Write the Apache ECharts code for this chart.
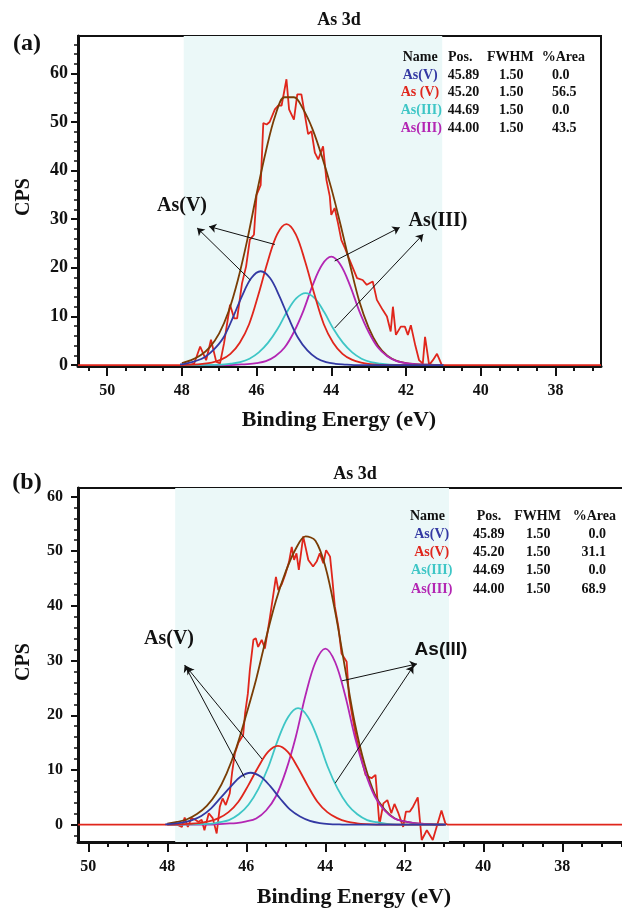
<!DOCTYPE html>
<html>
<head>
<meta charset="utf-8">
<script src="https://cdn.jsdelivr.net/npm/echarts@6/dist/echarts.min.js"></script>
<style>
    html, body {margin: 0; padding: 0; background: #fff;}
    #chart {width: 622px; height: 910px;}
</style>
</head>
<body>
<div id="chart"></div>
<script>
    // ---- (a) 数据 ----
    var rawAX = [50.78, 47.8, 47.67, 47.51, 47.35, 47.22, 47.08, 46.98, 46.87, 46.71, 46.6, 46.52, 46.39, 46.28, 46.18, 46.07, 46.0, 45.89, 45.82, 45.73, 45.65, 45.51, 45.42, 45.33, 45.2, 45.13, 45.0, 44.91, 44.8, 44.62, 44.53, 44.44, 44.35, 44.22, 44.13, 44.04, 44.0, 43.91, 43.82, 43.73, 43.63, 43.53, 43.31, 43.16, 43.05, 42.89, 42.78, 42.62, 42.51, 42.41, 42.35, 42.27, 42.14, 42.03, 41.95, 41.87, 41.75, 41.65, 41.55, 41.49, 41.38, 41.28, 41.17, 41.04, 36.78];
    var rawAY = [0, 0, 0.3, 3.8, 1.0, 5.2, 0.7, 0.3, 4.5, 12.4, 9.6, 9.6, 16.8, 20.3, 25.8, 26.8, 35.0, 37.0, 49.8, 49.5, 50.0, 52.6, 53.4, 53.4, 58.8, 52.6, 50.5, 55.7, 55.7, 47.5, 48.1, 43.7, 42.3, 45.0, 38.1, 34.7, 30.9, 32.3, 29.2, 25.7, 24.0, 22.0, 17.9, 17.5, 16.5, 17.2, 13.4, 11.3, 10.0, 6.9, 12.0, 6.2, 7.9, 7.9, 6.2, 8.2, 4.0, 1.0, 0.3, 5.8, 0, 1.0, 2.3, 0, 0];

    var envAX = [48.0, 47.75, 47.5, 47.25, 47.0, 46.75, 46.5, 46.25, 46.0, 45.75, 45.5, 45.25, 45.0, 44.75, 44.5, 44.25, 44.0, 43.75, 43.5, 43.25, 43.0, 42.75, 42.5, 42.25, 42.0, 41.75, 41.5, 41.25, 41.0];
    var envAY = [0.4, 1.0, 2.0, 3.7, 6.5, 11.0, 17.5, 25.7, 35.2, 44.0, 51.3, 55.1, 55.1, 52.6, 48.5, 42.9, 36.4, 28.8, 20.7, 13.1, 7.7, 4.0, 1.9, 0.85, 0.4, 0.2, 0.1, 0.05, 0];

    var blueAX = [48.05, 47.89, 47.64, 47.39, 47.14, 46.89, 46.64, 46.39, 46.14, 45.89, 45.64, 45.39, 45.14, 44.89, 44.64, 44.39, 44.14, 43.89, 43.64, 43.39, 41.0];
    var blueAY = [0.15, 0.3, 0.8, 1.6, 3.2, 5.6, 9.65, 14.2, 17.9, 19.3, 17.9, 14.2, 9.65, 5.6, 3.0, 1.4, 0.6, 0.25, 0.1, 0, 0];

    var redAX = [48.0, 47.7, 47.45, 47.2, 46.95, 46.7, 46.45, 46.2, 45.95, 45.7, 45.45, 45.2, 44.95, 44.7, 44.45, 44.2, 43.95, 43.7, 43.45, 43.2, 42.95, 42.7, 42.45, 41.0];
    var redAY = [0, 0.1, 0.25, 0.5, 1.1, 2.3, 4.6, 8.4, 14.5, 21.3, 26.9, 29.0, 26.9, 21.3, 14.5, 8.4, 4.6, 2.3, 1.1, 0.5, 0.2, 0.05, 0, 0];

    var cyanAX = [48.0, 46.94, 46.69, 46.44, 46.19, 45.94, 45.69, 45.44, 45.19, 44.94, 44.69, 44.44, 44.19, 43.94, 43.69, 43.44, 43.19, 42.94, 42.69, 42.44, 42.19, 41.0];
    var cyanAY = [0, 0.1, 0.3, 0.6, 1.3, 2.6, 4.6, 7.4, 10.9, 13.7, 14.8, 13.7, 10.9, 7.4, 4.6, 2.6, 1.3, 0.6, 0.3, 0.1, 0, 0];

    var magAX = [48.0, 46.75, 46.5, 46.25, 46.0, 45.75, 45.5, 45.25, 45.0, 44.75, 44.5, 44.25, 44.0, 43.75, 43.5, 43.25, 43.0, 42.75, 42.5, 42.25, 42.0, 41.75, 41.5, 41.25, 41.0];
    var magAY = [0, 0, 0.1, 0.2, 0.4, 0.8, 1.8, 3.6, 6.8, 11.1, 16.4, 20.6, 22.3, 20.6, 16.4, 11.1, 6.8, 3.6, 1.8, 0.8, 0.4, 0.2, 0.1, 0, 0];

    // ---- (b) 数据 ----
    var rawBX = [50.26, 47.75, 47.71, 47.63, 47.56, 47.48, 47.39, 47.29, 47.21, 47.13, 47.06, 46.95, 46.85, 46.75, 46.67, 46.6, 46.52, 46.42, 46.36, 46.29, 46.2, 46.08, 46.03, 45.96, 45.91, 45.82, 45.76, 45.7, 45.61, 45.53, 45.4, 45.25, 45.19, 45.1, 45.02, 44.92, 44.85, 44.79, 44.73, 44.67, 44.56, 44.52, 44.43, 44.37, 44.31, 44.22, 44.14, 44.05, 43.98, 43.88, 43.82, 43.76, 43.67, 43.59, 43.46, 43.4, 43.33, 43.22, 43.12, 42.98, 42.83, 42.73, 42.63, 42.53, 42.43, 42.33, 42.25, 42.15, 42.03, 41.96, 41.86, 41.78, 41.66, 41.56, 41.43, 41.28, 41.06, 40.96, 40.9, 36.44];
    var rawBY = [0, 0, 0, -0.4, 1.3, -0.4, 1.2, 0.9, 0.5, 0.9, -1.0, 2.1, 1.2, -1.6, 3.3, 4.8, 3.6, 5.7, 9.5, 13.0, 15.0, 16.4, 20.4, 24.0, 28.3, 33.8, 34.1, 32.5, 33.8, 32.2, 38.0, 45.3, 42.9, 44.0, 45.6, 48.0, 50.8, 48.4, 49.6, 46.6, 52.7, 53.0, 48.4, 47.8, 47.2, 48.1, 49.6, 47.8, 50.2, 49.0, 44.7, 39.9, 36.2, 31.3, 29.8, 23.4, 20.4, 16.0, 13.0, 9.1, 8.5, 9.1, 0, 3.9, 4.5, 2.1, 3.8, 2.1, -0.4, 2.4, 2.4, 3.3, 5.0, -2.8, -1.0, -2.8, 2.6, 0.2, 0, 0];

    var envBX = [48.0, 47.75, 47.5, 47.25, 47.0, 46.75, 46.5, 46.25, 46.0, 45.75, 45.5, 45.25, 45.0, 44.75, 44.5, 44.25, 44.0, 43.75, 43.5, 43.25, 43.0, 42.75, 42.5, 42.25, 42.0, 41.75, 41.5, 41.25, 41.0];
    var envBY = [0.2, 0.5, 1.0, 1.95, 3.45, 5.8, 9.35, 14.1, 20.15, 26.6, 34.1, 40.95, 46.3, 50.4, 52.7, 51.9, 47.2, 38.9, 28.6, 18.45, 10.9, 5.6, 2.75, 1.2, 0.6, 0.3, 0.15, 0.07, 0];

    var blueBX = [48.05, 47.89, 47.64, 47.39, 47.14, 46.89, 46.64, 46.39, 46.14, 45.89, 45.64, 45.39, 45.14, 44.89, 44.64, 44.39, 44.14, 43.89, 43.64, 43.39, 40.95];
    var blueBY = [0.07, 0.15, 0.4, 0.8, 1.6, 3.0, 5.0, 7.0, 8.8, 9.5, 8.8, 7.0, 4.75, 2.75, 1.5, 0.7, 0.3, 0.12, 0.05, 0, 0];

    var redBX = [48.0, 47.7, 47.45, 47.2, 46.95, 46.7, 46.45, 46.2, 45.95, 45.7, 45.45, 45.2, 44.95, 44.7, 44.45, 44.2, 43.95, 43.7, 43.45, 43.2, 42.95, 42.7, 42.45, 40.95];
    var redBY = [0, 0.05, 0.15, 0.3, 0.6, 1.2, 2.3, 4.2, 7.2, 10.5, 13.3, 14.4, 13.3, 10.5, 7.2, 4.2, 2.3, 1.2, 0.55, 0.25, 0.1, 0.02, 0, 0];

    var cyanBX = [48.0, 46.94, 46.69, 46.44, 46.19, 45.94, 45.69, 45.44, 45.19, 44.94, 44.69, 44.44, 44.19, 43.94, 43.69, 43.44, 43.19, 42.94, 42.69, 42.44, 42.19, 40.95];
    var cyanBY = [0, 0.15, 0.45, 0.85, 1.9, 3.7, 6.6, 10.6, 15.7, 19.7, 21.3, 19.7, 15.7, 10.6, 6.6, 3.7, 1.9, 0.85, 0.45, 0.15, 0, 0];

    var magBX = [48.0, 46.9, 46.75, 46.5, 46.25, 46.0, 45.75, 45.5, 45.25, 45.0, 44.75, 44.5, 44.25, 44.0, 43.75, 43.5, 43.25, 43.0, 42.75, 42.5, 42.25, 42.0, 41.75, 41.5, 41.25, 41.0];
    var magBY = [0, 0, 0.1, 0.2, 0.3, 0.6, 1.15, 2.6, 5.2, 9.8, 16.0, 23.7, 29.7, 32.2, 29.7, 23.7, 16.0, 9.8, 5.2, 2.6, 1.15, 0.6, 0.3, 0.15, 0.05, 0];

    // 阴影区间、箭头
    var shadeA = [47.95, 41.03];
    var shadeB = [47.8, 40.87];
    var arrowsA = [[46.17, 17.5, 47.59, 28.2], [45.51, 24.8, 47.27, 28.5], [43.91, 21.4, 42.17, 28.3], [43.91, 7.6, 41.54, 26.9]];
    var arrowsB = [[46.04, 8.6, 47.56, 29.2], [45.6, 12.0, 47.51, 28.8], [43.58, 26.3, 41.68, 29.4], [43.75, 7.6, 41.77, 29.0]];

    // 刻度
    var xMajor = [38, 40, 42, 44, 46, 48, 50];
    var xMinorA = [37, 37.5, 38.5, 39, 39.5, 40.5, 41, 41.5, 42.5, 43, 43.5, 44.5, 45, 45.5, 46.5, 47, 47.5, 48.5, 49, 49.5, 50.5];
    var xMinorB = [36.5, 37, 37.5, 38.5, 39, 39.5, 40.5, 41, 41.5, 42.5, 43, 43.5, 44.5, 45, 45.5, 46.5, 47, 47.5, 48.5, 49, 49.5];
    var yMajor = [0, 10, 20, 30, 40, 50, 60];
    var yMinorA = [2, 4, 6, 8, 12, 14, 16, 18, 22, 24, 26, 28, 32, 34, 36, 38, 42, 44, 46, 48, 52, 54, 56, 58, 62, 64, 66];
    var yMinorB = [-2, 2, 4, 6, 8, 12, 14, 16, 18, 22, 24, 26, 28, 32, 34, 36, 38, 42, 44, 46, 48, 52, 54, 56, 58];

    // 表格
    var tableHead = ['Name', 'Pos.', 'FWHM', '%Area'];
    var tableNamesA = ['As(V)', 'As (V)', 'As(III)', 'As(III)'];
    var tableNamesB = ['As(V)', 'As(V)', 'As(III)', 'As(III)'];
    var tablePos = ['45.89', '45.20', '44.69', '44.00'];
    var tableFwhm = ['1.50', '1.50', '1.50', '1.50'];
    var tableAreaA = ['0.0', '56.5', '0.0', '43.5'];
    var tableAreaB = ['0.0', '31.1', '0.0', '68.9'];

    var SERIF = '"Liberation Serif", "Times New Roman", serif';
    var SANS = '"Liberation Sans", Arial, sans-serif';
    var BLUE = '#3339a3', RED = '#e0261c', CYAN = '#3ec6c6', MAG = '#b326b3', BROWN = '#7a3d05', INK = '#111';
    var rowColors = [BLUE, RED, CYAN, MAG];

    function pairs(xs, ys) {
        return xs.map(function (x, i) { return [x, ys[i]]; });
    }

    function arrowData(list) {
        return list.map(function (a) {
            return [{coord: [a[0], a[1]]}, {coord: [a[2], a[3]]}];
        });
    }

    function xAxes(grid, min, max, minor) {
        var base = {
            gridIndex: grid, type: 'value', inverse: true, min: min, max: max, position: 'bottom',
            splitLine: {show: false}
        };
        return [
            Object.assign({}, base, {
                axisLine: {onZero: false, lineStyle: {color: INK, width: 3}},
                axisTick: {customValues: xMajor, length: 10, lineStyle: {color: INK, width: 2}},
                axisLabel: {customValues: xMajor, margin: 17, color: INK, fontFamily: SERIF, fontWeight: 'bold', fontSize: 16}
            }),
            Object.assign({}, base, {
                axisLine: {show: false, onZero: false},
                axisTick: {customValues: minor, length: 5, lineStyle: {color: INK, width: 2}},
                axisLabel: {show: false}
            })
        ];
    }

    function yAxes(grid, min, max, minor, fs, margin) {
        var base = {
            gridIndex: grid, type: 'value', min: min, max: max, position: 'left',
            splitLine: {show: false}
        };
        return [
            Object.assign({}, base, {
                axisLine: {onZero: false, lineStyle: {color: INK, width: 3}},
                axisTick: {customValues: yMajor, length: 7, lineStyle: {color: INK, width: 2}},
                axisLabel: {customValues: yMajor, margin: margin, color: INK, fontFamily: SERIF, fontWeight: 'bold', fontSize: fs}
            }),
            Object.assign({}, base, {
                axisLine: {show: false, onZero: false},
                axisTick: {customValues: minor, length: 4, lineStyle: {color: INK, width: 1.5}},
                axisLabel: {show: false}
            })
        ];
    }

    function panelSeries(xi, yi, raw, env, comps, shade, arrows) {
        var list = [];
        list.push({
            type: 'line', xAxisIndex: xi, yAxisIndex: yi, data: raw, showSymbol: false,
            lineStyle: {color: RED, width: 1.8}, z: 2,
            markArea: {silent: true, itemStyle: {color: '#ebf8f8'}, data: [[{xAxis: shade[0]}, {xAxis: shade[1]}]]},
            markLine: {
                silent: true, symbol: ['none', 'arrow'], symbolSize: 7, label: {show: false},
                lineStyle: {color: INK, width: 1, type: 'solid'}, data: arrowData(arrows)
            }
        });
        list.push({
            type: 'line', xAxisIndex: xi, yAxisIndex: yi, data: env, showSymbol: false, smooth: 0.35,
            lineStyle: {color: BROWN, width: 1.8}, z: 3
        });
        comps.forEach(function (c) {
            list.push({
                type: 'line', xAxisIndex: xi, yAxisIndex: yi, data: c[0], showSymbol: false, smooth: 0.35,
                lineStyle: {color: c[1], width: 1.8}, z: 3
            });
        });
        return list;
    }

    function txt(x, y, s, size, opt) {
        opt = opt || {};
        return {
            type: 'text', x: x, y: y, rotation: opt.rot || 0, z: 10,
            style: {
                text: s, fill: opt.color || INK, textAlign: opt.align || 'left', textVerticalAlign: 'middle',
                font: 'bold ' + size + 'px ' + (opt.font || SERIF)
            }
        };
    }

    var graphics = [];
    // 面板标记、标题、坐标轴名称
    graphics.push(txt(27, 44, '(a)', 24, {align: 'center'}));
    graphics.push(txt(27, 483, '(b)', 24, {align: 'center'}));
    graphics.push(txt(339, 20, 'As 3d', 18, {align: 'center'}));
    graphics.push(txt(355, 474, 'As 3d', 18, {align: 'center'}));
    graphics.push(txt(24, 197, 'CPS', 20, {align: 'center', rot: Math.PI / 2}));
    graphics.push(txt(24, 662, 'CPS', 20, {align: 'center', rot: Math.PI / 2}));
    graphics.push(txt(339, 420, 'Binding Energy (eV)', 22, {align: 'center'}));
    graphics.push(txt(354, 897, 'Binding Energy (eV)', 22, {align: 'center'}));
    graphics.push(txt(182, 206, 'As(V)', 20, {align: 'center'}));
    graphics.push(txt(438, 221, 'As(III)', 20, {align: 'center'}));
    graphics.push(txt(169, 639, 'As(V)', 20, {align: 'center'}));
    graphics.push(txt(441, 650, 'As(III)', 19, {align: 'center', font: SANS}));

    // 表格 (a)
    [402.7, 448, 487, 541.7].forEach(function (x, i) { graphics.push(txt(x, 57, tableHead[i], 14)); });
    var rowYA = [75, 92.7, 110, 128.3];
    var nameXA = [402.7, 400.7, 400.7, 400.7];
    rowYA.forEach(function (y, i) {
        graphics.push(txt(nameXA[i], y, tableNamesA[i], 14, {color: rowColors[i]}));
        graphics.push(txt(447.7, y, tablePos[i], 14));
        graphics.push(txt(499, y, tableFwhm[i], 14));
        graphics.push(txt(552, y, tableAreaA[i], 14));
    });
    // 表格 (b)
    [410, 476.7, 514.3, 572.7].forEach(function (x, i) { graphics.push(txt(x, 516.7, tableHead[i], 14)); });
    var rowYB = [534.3, 552.7, 570.5, 589.5];
    rowYB.forEach(function (y, i) {
        graphics.push(txt(431.7, y, tableNamesB[i], 14, {color: rowColors[i], align: 'center'}));
        graphics.push(txt(488.7, y, tablePos[i], 14, {align: 'center'}));
        graphics.push(txt(538.3, y, tableFwhm[i], 14, {align: 'center'}));
        graphics.push(txt(606, y, tableAreaB[i], 14, {align: 'right'}));
    });

    var series = []
        .concat(panelSeries(0, 0, pairs(rawAX, rawAY), pairs(envAX, envAY), [
            [pairs(magAX, magAY), MAG], [pairs(cyanAX, cyanAY), CYAN], [pairs(redAX, redAY), RED], [pairs(blueAX, blueAY), BLUE]
        ], shadeA, arrowsA))
        .concat(panelSeries(2, 2, pairs(rawBX, rawBY), pairs(envBX, envBY), [
            [pairs(magBX, magBY), MAG], [pairs(cyanBX, cyanBY), CYAN], [pairs(redBX, redBY), RED], [pairs(blueBX, blueBY), BLUE]
        ], shadeB, arrowsB));

    var chart = echarts.init(document.getElementById('chart'));
    chart.setOption({
        animation: false,
        backgroundColor: '#fff',
        grid: [
            {left: 78, top: 36, width: 523, height: 330, show: true, borderColor: INK, borderWidth: 2, backgroundColor: 'transparent', outerBoundsMode: 'none'},
            {left: 78, top: 488, width: 546, height: 354, show: true, borderColor: INK, borderWidth: 2, backgroundColor: 'transparent', outerBoundsMode: 'none'}
        ],
        xAxis: xAxes(0, 36.78, 50.78, xMinorA).concat(xAxes(1, 36.44, 50.26, xMinorB)),
        yAxis: yAxes(0, -0.2, 67.7, yMinorA, 18, 10).concat(yAxes(1, -3.16, 61.55, yMinorB, 16, 15)),
        series: series,
        graphic: graphics
    });
</script>
</body>
</html>
